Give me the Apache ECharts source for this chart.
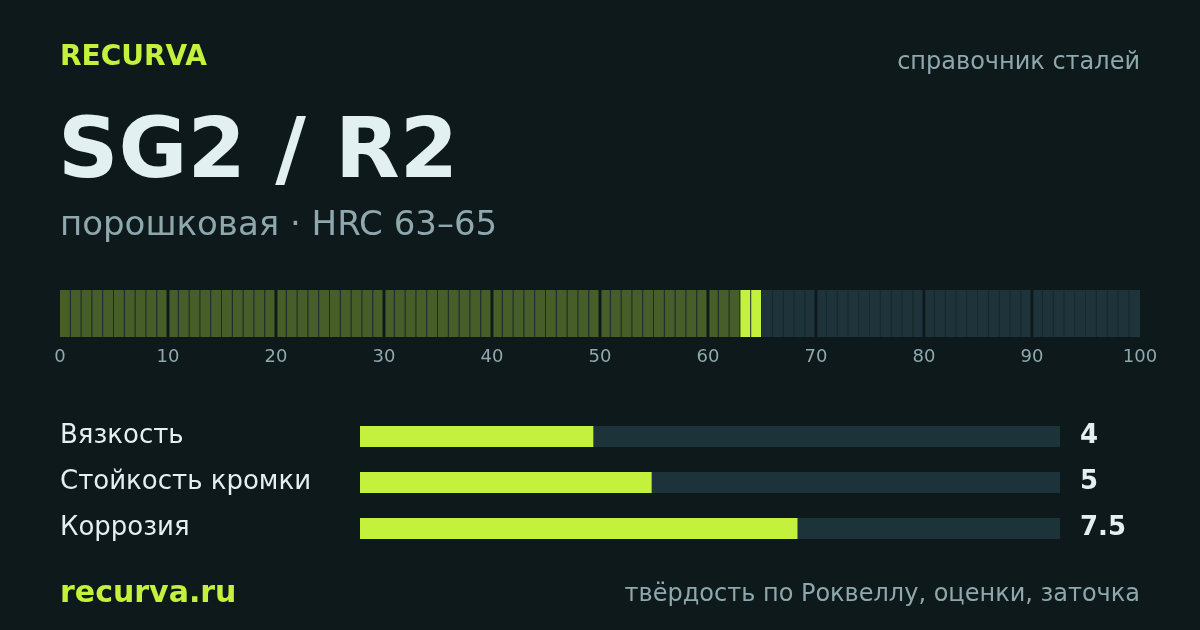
<!DOCTYPE html>
<html>
<head>
<meta charset="utf-8">
<script src="https://cdn.jsdelivr.net/npm/echarts@6/dist/echarts.min.js"></script>
<style>
html,body{margin:0;padding:0;background:#0d191b;}
#c{width:1200px;height:630px;}
</style>
</head>
<body>
<div id="c"></div>
<script>
// ---- data ----
const brand = 'RECURVA';
const headerRight = 'справочник сталей';
const steelName = 'SG2 / R2';
const subtitle = 'порошковая · HRC 63–65';
const footerLeft = 'recurva.ru';
const footerRight = 'твёрдость по Роквеллу, оценки, заточка';

const scaleMin = 0;
const scaleMax = 100;
const scaleStep = 10;
const hrcRange = [63, 65];

const ratingNames = ['Вязкость', 'Стойкость кромки', 'Коррозия'];
const ratingValues = [4, 5, 7.5];
const ratingMax = 12;

// ---- colours ----
const BG = '#0d191b';
const LIME = '#c3f13c';
const OLIVE = '#485e29';
const TEAL = '#1e343a';
const GAP = '#172b2f';
const TRACK = '#1c3339';
const GREY = '#8ea8ad';
const WHITE = '#e3f0f1';
const FONT = '"DejaVu Sans", sans-serif';

// build scale cells (one per unit of the 0..100 scale)
const cells = [];
for (let i = scaleMin; i < scaleMax; i++) {
  let state = i < hrcRange[0] ? 0 : (i < hrcRange[1] ? 1 : 2);
  cells.push([i, i + 1, state]);
}
const cellColors = [OLIVE, LIME, TEAL];

const chart = echarts.init(document.getElementById('c'), null, {renderer: 'canvas'});

const option = {
  backgroundColor: BG,
  animation: false,
  grid: [
    {left: 60, right: 60, top: 290, height: 47},
    {left: 360, width: 700, top: 413.5, height: 138}
  ],
  xAxis: [
    {
      gridIndex: 0, type: 'value', min: scaleMin, max: scaleMax, interval: scaleStep,
      axisLine: {show: false}, axisTick: {show: false}, splitLine: {show: false},
      axisLabel: {color: GREY, fontSize: 18, fontFamily: FONT, margin: 11}
    },
    {
      gridIndex: 1, type: 'value', min: 0, max: ratingMax, show: false
    }
  ],
  yAxis: [
    {gridIndex: 0, type: 'value', min: 0, max: 1, show: false},
    {
      gridIndex: 1, type: 'category', data: ratingNames, inverse: true,
      axisLine: {show: false}, axisTick: {show: false},
      axisLabel: {color: WHITE, fontSize: 26, fontFamily: FONT, align: 'left', margin: 300, padding: [4, 0, 0, 0]}
    },
    {
      gridIndex: 1, type: 'category', data: ratingValues.map(v => String(v)), inverse: true,
      position: 'right',
      axisLine: {show: false}, axisTick: {show: false},
      axisLabel: {color: WHITE, fontSize: 26, fontWeight: 'bold', fontFamily: FONT, align: 'left', margin: 20, padding: [4, 0, 0, 0]}
    }
  ],
  series: [
    {
      type: 'custom',
      xAxisIndex: 0, yAxisIndex: 0,
      data: cells,
      renderItem: function (params, api) {
        const a = api.value(0), b = api.value(1), s = api.value(2);
        const p0 = api.coord([a, 0]);
        const p1 = api.coord([b, 1]);
        const cs = params.coordSys;
        let x0 = p0[0], x1 = p1[0];
        const decadeStart = (a % scaleStep === 0 && a > scaleMin);
        const decadeEnd = (b % scaleStep === 0 && b < scaleMax);
        if (decadeStart) x0 += 1.5;
        if (decadeEnd) x1 -= 1.5;
        const children = [];
        if (!decadeEnd && b < scaleMax) {
          children.push({type: 'rect', shape: {x: x0, y: cs.y, width: x1 - x0, height: cs.height}, style: {fill: GAP}});
          children.push({type: 'rect', shape: {x: x0, y: cs.y, width: x1 - x0 - 1, height: cs.height}, style: {fill: cellColors[s]}});
        } else {
          children.push({type: 'rect', shape: {x: x0, y: cs.y, width: x1 - x0, height: cs.height}, style: {fill: cellColors[s]}});
        }
        return {type: 'group', children: children};
      }
    },
    {
      type: 'bar',
      xAxisIndex: 1, yAxisIndex: 1,
      data: ratingValues,
      barWidth: 21,
      itemStyle: {color: LIME},
      showBackground: true,
      backgroundStyle: {color: TRACK}
    }
  ],
  graphic: [
    {type: 'text', x: 60, y: 58,
     style: {text: brand, fill: LIME, font: 'bold 28px ' + FONT, verticalAlign: 'middle', align: 'left'}},
    {type: 'text', x: 1140, y: 63,
     style: {text: headerRight, fill: GREY, font: '24px ' + FONT, verticalAlign: 'middle', align: 'right'}},
    {type: 'text', x: 58, y: 155,
     style: {text: steelName, fill: WHITE, font: 'bold 84px ' + FONT, verticalAlign: 'middle', align: 'left'}},
    {type: 'text', x: 60, y: 226,
     style: {text: subtitle, fill: GREY, font: '34px ' + FONT, verticalAlign: 'middle', align: 'left'}},
    {type: 'text', x: 60, y: 594,
     style: {text: footerLeft, fill: LIME, font: 'bold 30px ' + FONT, verticalAlign: 'middle', align: 'left'}},
    {type: 'text', x: 1140, y: 595,
     style: {text: footerRight, fill: GREY, font: '24px ' + FONT, verticalAlign: 'middle', align: 'right'}}
  ]
};
chart.setOption(option);
</script>
</body>
</html>
